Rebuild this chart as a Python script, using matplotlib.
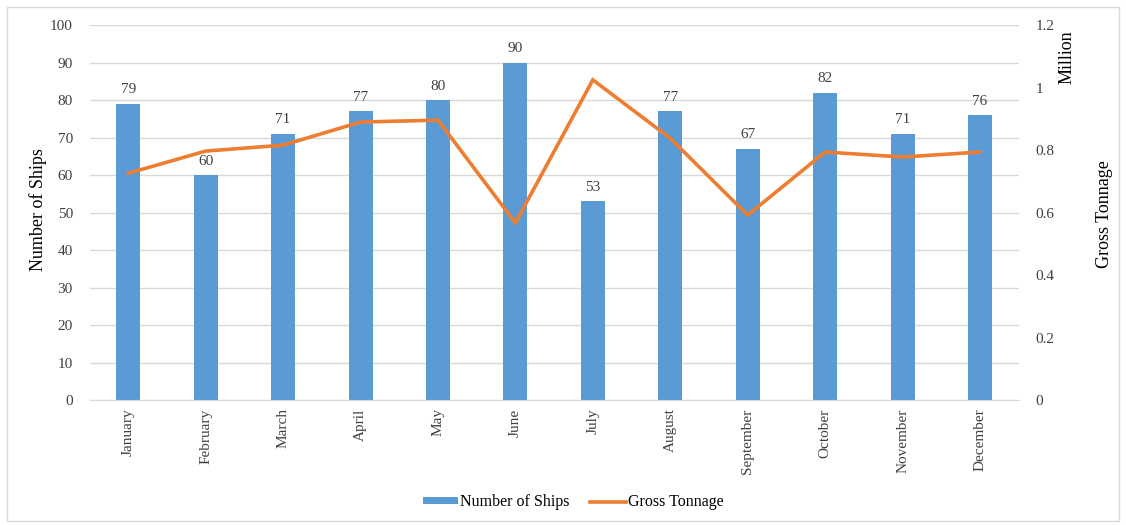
import matplotlib.pyplot as plt
from matplotlib.patches import Rectangle

months = ['January', 'February', 'March', 'April', 'May', 'June', 'July',
          'August', 'September', 'October', 'November', 'December']
ships = [79, 60, 71, 77, 80, 90, 53, 77, 67, 82, 71, 76]
tonnage = [0.726, 0.797, 0.816, 0.890, 0.896, 0.567, 1.025,
           0.838, 0.592, 0.794, 0.778, 0.794]   # million GT

plt.rcParams['font.family'] = ['Liberation Serif', 'DejaVu Serif']
plt.rcParams['font.size'] = 11

blue = '#5B9BD5'
orange = '#ED7D31'
txt = '#404040'

fig = plt.figure(figsize=(11.26, 5.25), dpi=100)
ax = fig.add_axes([0.0795, 0.238, 0.8252, 0.714])
ax2 = ax.twinx()

x = list(range(len(months)))
bars = ax.bar(x, ships, width=0.31, color=blue, zorder=2, label='Number of Ships')
for xi, v in zip(x, ships):
    ax.text(xi, v + 2, str(v), ha='center', va='bottom', fontsize=11, color=txt)

line, = ax2.plot(x, tonnage, color=orange, linewidth=2.6, label='Gross Tonnage',
                 solid_joinstyle='miter', zorder=3)

ax.set_xlim(-0.5, len(months) - 0.5)
ax.set_ylim(0, 100)
ax.set_yticks(range(0, 101, 10))
ax2.set_ylim(0, 1.2)
ax2.set_yticks([0, 0.2, 0.4, 0.6, 0.8, 1.0, 1.2])
ax2.set_yticklabels(['0', '0.2', '0.4', '0.6', '0.8', '1', '1.2'])

ax.set_xticks(x)
ax.set_xticklabels(months, rotation=90)
ax.grid(axis='y', color='#D9D9D9', linewidth=1, zorder=0)
ax.set_axisbelow(True)

for a in (ax, ax2):
    for s in a.spines.values():
        s.set_visible(False)
    a.tick_params(length=0, colors=txt, labelsize=11)
ax.spines['bottom'].set_visible(True)
ax.spines['bottom'].set_color('#D9D9D9')
ax.tick_params(axis='y', pad=12)
ax.tick_params(axis='x', pad=6)
ax2.tick_params(axis='y', pad=12)

# axis titles placed in figure coordinates
fig.text(0.034, 0.60, 'Number of Ships', rotation=90, ha='center', va='center',
         fontsize=13, color='black')
fig.text(0.981, 0.592, 'Gross Tonnage', rotation=90, ha='center', va='center',
         fontsize=13, color='black')
fig.text(0.948, 0.891, 'Million', rotation=90, ha='center', va='center',
         fontsize=13, color='black')

fig.legend([bars, line], ['Number of Ships', 'Gross Tonnage'], loc='center',
           bbox_to_anchor=(0.509, 0.043), ncol=2, frameon=False, fontsize=11.5,
           handlelength=2.2, handleheight=0.3, columnspacing=1.3, handletextpad=0.15)

fig.patches.append(Rectangle((0.006, 0.008), 0.988, 0.978, transform=fig.transFigure,
                             fill=False, edgecolor='#D9D9D9', linewidth=1))

fig.savefig('out.png', dpi=100)
